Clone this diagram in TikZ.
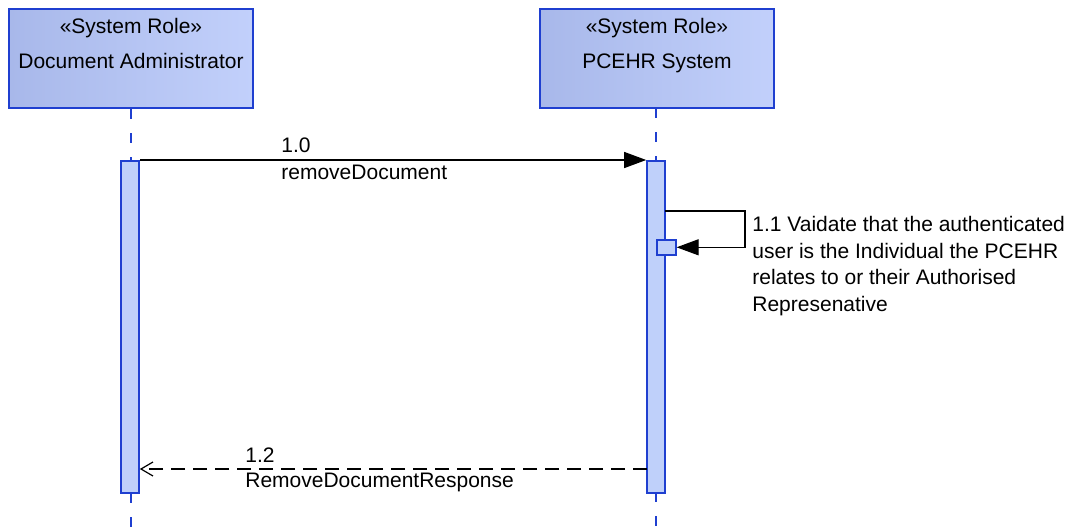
\documentclass[tikz,border=0pt]{standalone}
\usepackage{fontspec}
\setmainfont{Liberation Sans}
\usetikzlibrary{arrows.meta,positioning}
\definecolor{roleline}{HTML}{1F3FD0}
\definecolor{rolefillA}{HTML}{A8B8EA}
\definecolor{rolefillB}{HTML}{C2D0FB}
\definecolor{actfill}{HTML}{BFD0FA}

\begin{document}
\begin{tikzpicture}
	[x=0.5pt, y=-0.5pt, font=\fontsize{10.5}{13.3}\selectfont,
	role/.style={rectangle, draw=roleline, line width=1pt, left color=rolefillA, right color=rolefillB, minimum height=49.5pt, inner sep=0},
	roletext/.style={align=center, anchor=north, inner sep=0},
	life/.style={draw=roleline, line width=0.8pt, dash pattern=on 5pt off 7pt},
	act/.style={rectangle, draw=roleline, line width=0.8pt, fill=actfill, minimum width=9pt, inner sep=0},
	call/.style={-{Triangle[length=11pt, width=8pt]}, line width=0.6pt},
	reply/.style={-{Straight Barb[length=6pt, width=7pt]}, line width=0.6pt, dash pattern=on 7pt off 4pt},
	msg/.style={anchor=west, inner sep=0}]
	\useasboundingbox (0,0) rectangle (1082,531);
	% lifelines
	\node (admin) [role, minimum width=122pt] at (131,58.5) {};
	\node (pcehr) [role, minimum width=117pt] at (657,58.5) {};
	\node (admintxt) [roletext] at (131,18) {«System Role»\\[4pt]Document Administrator};
	\node (pcehrtxt) [roletext] at (657,18) {«System Role»\\[4pt]PCEHR System};
	\coordinate (adminend) at (131,531);
	\coordinate (pcehrend) at (656,531);
	\draw [life] (admin.south) -- (adminend);
	\draw [life] (656,108) -- (pcehrend);
	% activations
	\node (adminact) [act, minimum height=166pt, anchor=north] at (130,160) {};
	\node (pcehract) [act, minimum height=166pt, anchor=north] at (656,160) {};
	\node (selfact) [act, minimum width=9.5pt, minimum height=7.5pt, anchor=north west] at (656,239) {};
	% 1.0
	\draw [call] (adminact.north east) -- (pcehract.north west);
	\node (m1num) [msg] at (281,145) {1.0};
	\node (m1txt) [msg] at (281,172) {removeDocument};
	% 1.1
	\coordinate (selfout) at (665,211);
	\coordinate (selfturn) at (745,211);
	\draw [call] (selfout) -- (selfturn) |- (selfact.east);
	\node (m2txt) [msg, anchor=north west, align=left] at (752,216) {1.1 Vaidate that the authenticated\\user is the Individual the PCEHR\\relates to or their Authorised\\Represenative};
	% 1.2
	\coordinate (replyfrom) at (647,469);
	\draw [reply] (replyfrom) -- (adminact.east |- replyfrom);
	\node (m3num) [msg] at (245,455) {1.2};
	\node (m3txt) [msg] at (245,482) {RemoveDocumentResponse};
\end{tikzpicture}
\end{document}
